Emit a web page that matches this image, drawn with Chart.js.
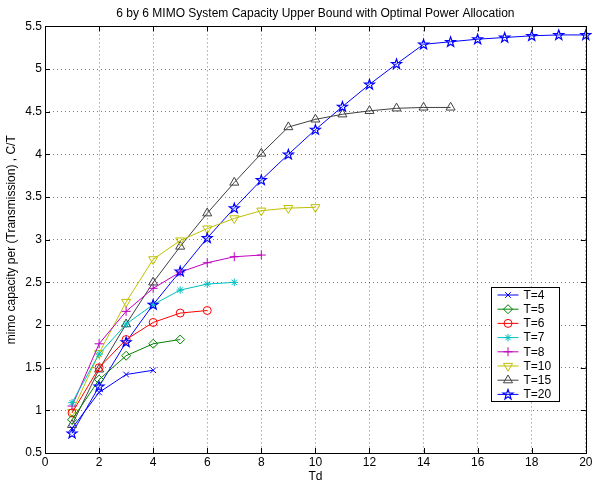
<!DOCTYPE html>
<html><head><meta charset="utf-8">
<script src="https://cdn.jsdelivr.net/npm/chart.js@4/dist/chart.umd.min.js"></script>
<style>html,body{margin:0;padding:0;background:#fff;}canvas{display:block;}</style>
</head><body>
<canvas id="c" width="592" height="486"></canvas>
<script>
const td = [1,2,3,4,5,6,7,8,9,10,11,12,13,14,15,16,17,18,19,20];
const seriesNames = ['T=4','T=5','T=6','T=7','T=8','T=10','T=15','T=20'];
const capT4  = [0.79,1.21,1.42,1.47];
const capT5  = [0.89,1.36,1.64,1.78,1.83];
const capT6  = [0.97,1.50,1.83,2.03,2.14,2.17];
const capT7  = [1.09,1.66,2.01,2.24,2.41,2.48,2.50];
const capT8  = [1.05,1.78,2.16,2.43,2.62,2.73,2.80,2.82];
const capT10 = [0.98,1.67,2.27,2.77,2.99,3.13,3.25,3.34,3.37,3.38];
const capT15 = [0.83,1.48,2.01,2.50,2.92,3.31,3.67,4.01,4.32,4.41,4.47,4.51,4.54,4.55,4.55];
const capT20 = [0.73,1.28,1.80,2.24,2.63,3.02,3.37,3.70,4.00,4.29,4.56,4.82,5.06,5.29,5.32,5.35,5.37,5.39,5.40,5.40];
const xTicks = [0,20,2];
const yTicks = [0.5,5.5,0.5];

const FONT = 'Liberation Sans, Arial, Helvetica, sans-serif';

function drawPentagram(ctx, cx, cy, R, color){
  const r = R*0.40;
  ctx.save();
  ctx.beginPath();
  for(let k=0;k<10;k++){
    const a = -Math.PI/2 + k*Math.PI/5;
    const rr = k%2===0 ? R : r;
    const px = cx + rr*Math.cos(a), py = cy + rr*Math.sin(a);
    if(k===0) ctx.moveTo(px,py); else ctx.lineTo(px,py);
  }
  ctx.closePath();
  ctx.strokeStyle = color; ctx.lineWidth = 1.2; ctx.stroke();
  ctx.restore();
}

const colors = ['#0000ff','#008000','#ff0000','#00bfbf','#bf00bf','#bfbf00','#404040','#0000ff'];
const styles = ['crossRot','rectRot','circle','star','cross','triangle','triangle','pentagram'];
const rots   = [0,0,0,0,0,180,0,0];
const radii  = [4,4.5,4,3.8,4.5,5.2,5.2,5.2];
const allVals = [capT4,capT5,capT6,capT7,capT8,capT10,capT15,capT20];

const datasets = allVals.map((vals,i)=>({
  label: seriesNames[i],
  data: vals.map((v,j)=>({x: td[j], y: v})),
  borderColor: colors[i],
  backgroundColor: 'rgba(0,0,0,0)',
  pointBorderColor: colors[i],
  pointBackgroundColor: 'rgba(0,0,0,0)',
  pointStyle: styles[i] === 'pentagram' ? 'circle' : styles[i],
  pointRotation: rots[i],
  pointRadius: styles[i] === 'pentagram' ? 0 : radii[i],
  pointBorderWidth: 1,
  borderWidth: 1,
  tension: 0,
  clip: false
}));

const framePlugin = {
  id: 'frame',
  afterDatasetsDraw(chart){
    const ctx = chart.ctx;
    chart.data.datasets.forEach((ds,i)=>{
      if(styles[i] !== 'pentagram') return;
      chart.getDatasetMeta(i).data.forEach(pt=>{
        drawPentagram(ctx, pt.x, pt.y + 0.3, radii[i], colors[i]);
      });
    });
  },
  afterDraw(chart){
    const ctx = chart.ctx, a = chart.chartArea;
    const xs = chart.scales.x, ys = chart.scales.y;
    ctx.save();
    ctx.strokeStyle = '#000'; ctx.lineWidth = 1;
    ctx.beginPath();
    const L = 5;
    xs.ticks.forEach(t=>{
      const px = Math.round(xs.getPixelForValue(t.value))+0.5;
      ctx.moveTo(px, a.bottom); ctx.lineTo(px, a.bottom-L);
      ctx.moveTo(px, a.top); ctx.lineTo(px, a.top+L);
    });
    ys.ticks.forEach(t=>{
      const py = Math.round(ys.getPixelForValue(t.value))+0.5;
      ctx.moveTo(a.left, py); ctx.lineTo(a.left+L, py);
      ctx.moveTo(a.right, py); ctx.lineTo(a.right-L, py);
    });
    ctx.stroke();
    ctx.strokeRect(Math.round(a.left)+0.5, Math.round(a.top)+0.5, Math.round(a.right-a.left), Math.round(a.bottom-a.top));

    // legend box
    const x0 = 491.5, y0 = 287.5, w = 68, h = 114;
    ctx.fillStyle = '#fff'; ctx.fillRect(x0,y0,w,h);
    ctx.strokeStyle = '#000'; ctx.strokeRect(x0,y0,w,h);
    ctx.font = '12px ' + FONT; ctx.textBaseline = 'middle'; ctx.textAlign = 'left';
    chart.data.datasets.forEach((ds,i)=>{
      const y = y0 + 7.5 + i*14.2;
      ctx.strokeStyle = ds.borderColor; ctx.lineWidth = 1;
      ctx.beginPath(); ctx.moveTo(x0+6, y); ctx.lineTo(x0+27, y); ctx.stroke();
      if(styles[i] === 'pentagram'){
        drawPentagram(ctx, x0+16.5, y+0.3, radii[i], colors[i]);
      } else {
        ctx.fillStyle = 'rgba(0,0,0,0)'; ctx.strokeStyle = ds.borderColor;
        Chart.helpers.drawPoint(ctx, {pointStyle: styles[i], rotation: rots[i], radius: radii[i], borderWidth: 1}, x0+16.5, y);
      }
      ctx.fillStyle = '#000';
      ctx.fillText(ds.label, x0+32, y+0.5);
    });
    ctx.restore();
  }
};

const fmt = v => String(Number(Number(v).toFixed(2)));

new Chart(document.getElementById('c'), {
  type: 'line',
  data: { datasets },
  plugins: [framePlugin],
  options: {
    responsive: false,
    animation: false,
    devicePixelRatio: 1,
    layout: { padding: { left: 0, right: 0, top: 0, bottom: 0 } },
    plugins: {
      legend: { display: false },
      tooltip: { enabled: false },
      title: {
        display: true,
        fullSize: false,
        text: '6 by 6 MIMO System Capacity Upper Bound with Optimal Power Allocation',
        color: '#000',
        font: { family: FONT, size: 12, weight: 'normal' },
        padding: { top: 6, bottom: 6 }
      }
    },
    scales: {
      x: {
        type: 'linear', min: xTicks[0], max: xTicks[1],
        ticks: { stepSize: xTicks[2], color: '#000', font: { family: FONT, size: 12 }, padding: 2, maxRotation: 0, callback: fmt },
        grid: { color: 'rgba(0,0,0,0.5)', drawTicks: false, lineWidth: 1 },
        border: { display: false, dash: [1,3] },
        title: { display: true, text: 'Td', color: '#000', font: { family: FONT, size: 12 }, padding: { top: 0, bottom: 2 } },
        afterFit(s){ s.height = 33; s.paddingRight = 5; s.paddingLeft = 0; }
      },
      y: {
        type: 'linear', min: yTicks[0], max: yTicks[1],
        ticks: { stepSize: yTicks[2], color: '#000', font: { family: FONT, size: 12 }, padding: 3, callback: fmt },
        grid: { color: 'rgba(0,0,0,0.5)', drawTicks: false, lineWidth: 1 },
        border: { display: false, dash: [1,3] },
        title: { display: true, text: 'mimo capacity per (Transmission) , C/T', color: '#000', font: { family: FONT, size: 12 }, padding: { top: 4, bottom: 0 } },
        afterFit(s){ s.width = 45; }
      }
    }
  }
});
</script>
</body></html>
